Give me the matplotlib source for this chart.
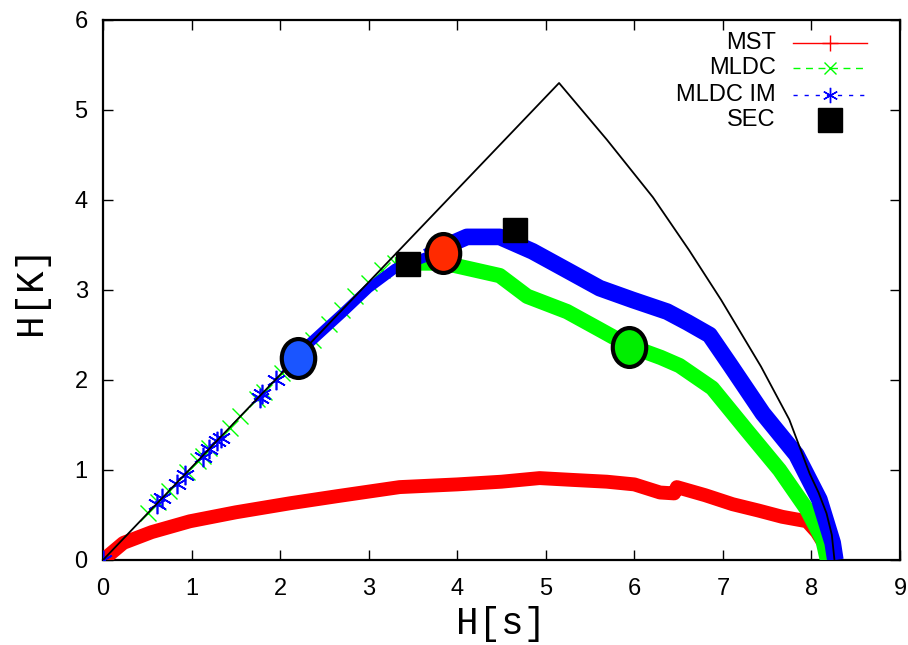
import numpy as np
import matplotlib.pyplot as plt
from matplotlib.path import Path
from matplotlib.transforms import Affine2D

# upper bound of the plane (left edge + right edge)
bound_x = [0, 5.15, 5.69, 6.21, 6.62, 6.98, 7.43, 7.75, 7.98, 8.08, 8.17, 8.23, 8.26]
bound_y = [0, 5.30, 4.67, 4.03, 3.44, 2.89, 2.15, 1.56, 0.96, 0.75, 0.52, 0.28, 0]

# MST
mst_x = [0, 0.23, 0.55, 0.98, 1.5, 2.11, 2.65, 3.35, 4.0, 4.5, 4.93, 5.3, 5.69,
         6.0, 6.29, 6.45, 6.48, 6.8, 7.11, 7.4, 7.67, 7.95, 8.06, 8.18, 8.24]
mst_y = [0, 0.19, 0.31, 0.43, 0.53, 0.63, 0.71, 0.81, 0.84, 0.87, 0.91, 0.89, 0.87,
         0.84, 0.75, 0.74, 0.81, 0.72, 0.62, 0.55, 0.48, 0.43, 0.31, 0.12, 0]

# MLDC: sparse points on the diagonal, then the dense band
mldc_diag_x = [0.51, 0.62, 0.75, 0.95, 1.07, 1.13, 1.2, 1.43, 1.55, 1.74, 1.82,
               2.02, 2.37, 2.55, 2.7, 2.85, 3.0, 3.15, 3.3]
mldc_diag_y = [0.52, 0.64, 0.77, 0.98, 1.10, 1.16, 1.24, 1.47, 1.60, 1.79, 1.87,
               2.08, 2.44, 2.62, 2.78, 2.93, 3.08, 3.22, 3.30]
mldc_x = [3.3, 3.6, 3.85, 4.03, 4.48, 4.79, 5.24, 5.61, 5.94, 6.3, 6.51, 6.88,
          7.27, 7.64, 7.95, 8.13, 8.18]
mldc_y = [3.28, 3.3, 3.3, 3.26, 3.16, 2.93, 2.76, 2.56, 2.38, 2.25, 2.16, 1.91,
          1.44, 1.0, 0.56, 0.22, 0]

# MLDC IM
im_diag_x = [0, 0.61, 0.67, 0.83, 0.93, 1.13, 1.2, 1.29, 1.33, 1.77, 1.8, 1.95, 2.1, 2.25]
im_diag_y = [0, 0.62, 0.69, 0.85, 0.95, 1.15, 1.23, 1.32, 1.36, 1.80, 1.84, 2.0, 2.15, 2.3]
im_low_x = [2.3, 2.7, 3.0, 3.3, 3.66]
im_low_y = [2.38, 2.74, 3.02, 3.24, 3.37]
im_x = [3.66, 3.9, 4.11, 4.48, 4.85, 5.24, 5.61, 5.98, 6.37,
        6.6, 6.85, 7.08, 7.45, 7.83, 8.09, 8.24, 8.27]
im_y = [3.37, 3.5, 3.59, 3.59, 3.43, 3.22, 3.02, 2.89, 2.76,
        2.64, 2.5, 2.17, 1.63, 1.17, 0.67, 0.19, 0]

# SEC squares
sec_x = [3.44, 4.65]
sec_y = [3.29, 3.67]

# highlighted points (x, y, colour)
spot_x = [2.20, 3.84, 5.94]
spot_y = [2.24, 3.41, 2.37]
spot_c = ['#1a55ff', '#ff2a00', '#00ee00']

fig = plt.figure(figsize=(9.08, 6.45), dpi=100)
ax = fig.add_axes([103 / 908, 85 / 645, 797 / 908, 540 / 645])

ax.plot(bound_x, bound_y, color='black', lw=1.3, zorder=4.5)

ax.plot(mst_x, mst_y, color='#ff0000', lw=10, solid_capstyle='butt', zorder=3)
ax.plot(mldc_diag_x, mldc_diag_y, ls='none', marker='x', ms=11, mew=1, color='#00ff00', zorder=3)
ax.plot(mldc_x, mldc_y, color='#00ff00', lw=11, solid_capstyle='butt', zorder=3)
ax.plot(im_diag_x, im_diag_y, ls='none', marker=(6, 2, 0), ms=14, mew=1.2, color='#0000ff', zorder=4)
ax.plot(im_low_x, im_low_y, color='#0000ff', lw=7, solid_capstyle='butt', zorder=4)
ax.plot(im_x, im_y, color='#0000ff', lw=12, solid_capstyle='butt', zorder=4)

ax.plot(sec_x, sec_y, ls='none', marker='s', ms=17, color='black', zorder=5)

ell = Path.unit_circle().transformed(Affine2D().scale(0.86, 1.0))
for x, y, c in zip(spot_x, spot_y, spot_c):
    ax.plot([x], [y], ls='none', marker=ell, ms=28, mfc=c, mec='black', mew=3, zorder=6)

# gnuplot-like key
tr = ax.transAxes
key = [('MST', '#ff0000', '-', '+', 12), ('MLDC', '#00ff00', (0, (5, 4)), 'x', 9),
       ('MLDC IM', '#0000ff', (0, (3, 5)), (6, 2, 0), 11)]
ys = [0.957, 0.911, 0.862]
for (lab, c, ls, mk, ms), yy in zip(key, ys):
    ax.text(0.844, yy, lab, transform=tr, ha='right', va='center', fontsize=17,
            family='Liberation Sans')
    ax.plot([0.866, 0.959], [yy, yy], transform=tr, color=c, ls=ls, lw=1)
    ax.plot([0.912], [yy], transform=tr, color=c, marker=mk, ms=ms, mew=1)
ax.text(0.844, 0.815, 'SEC', transform=tr, ha='right', va='center', fontsize=17,
        family='Liberation Sans')
ax.plot([0.912], [0.815], transform=tr, marker='s', ms=17, color='black', ls='none')

ax.set_xlim(0, 9)
ax.set_ylim(0, 6)
ax.set_xticks(range(10))
ax.set_yticks(range(7))
ax.tick_params(direction='in', top=True, right=True, length=7, width=1, labelsize=17)
ax.tick_params(axis='x', pad=13)
ax.tick_params(axis='y', pad=11)
for lab in ax.get_xticklabels() + ax.get_yticklabels():
    lab.set_family('Liberation Sans')
for s in ax.spines.values():
    s.set_linewidth(1.6)

ax.set_xlabel('H[s]', family='Liberation Mono', fontsize=27, labelpad=4)
ax.set_ylabel('H[K]', family='Liberation Mono', fontsize=27, labelpad=18)

fig.savefig('out.png', dpi=100)
